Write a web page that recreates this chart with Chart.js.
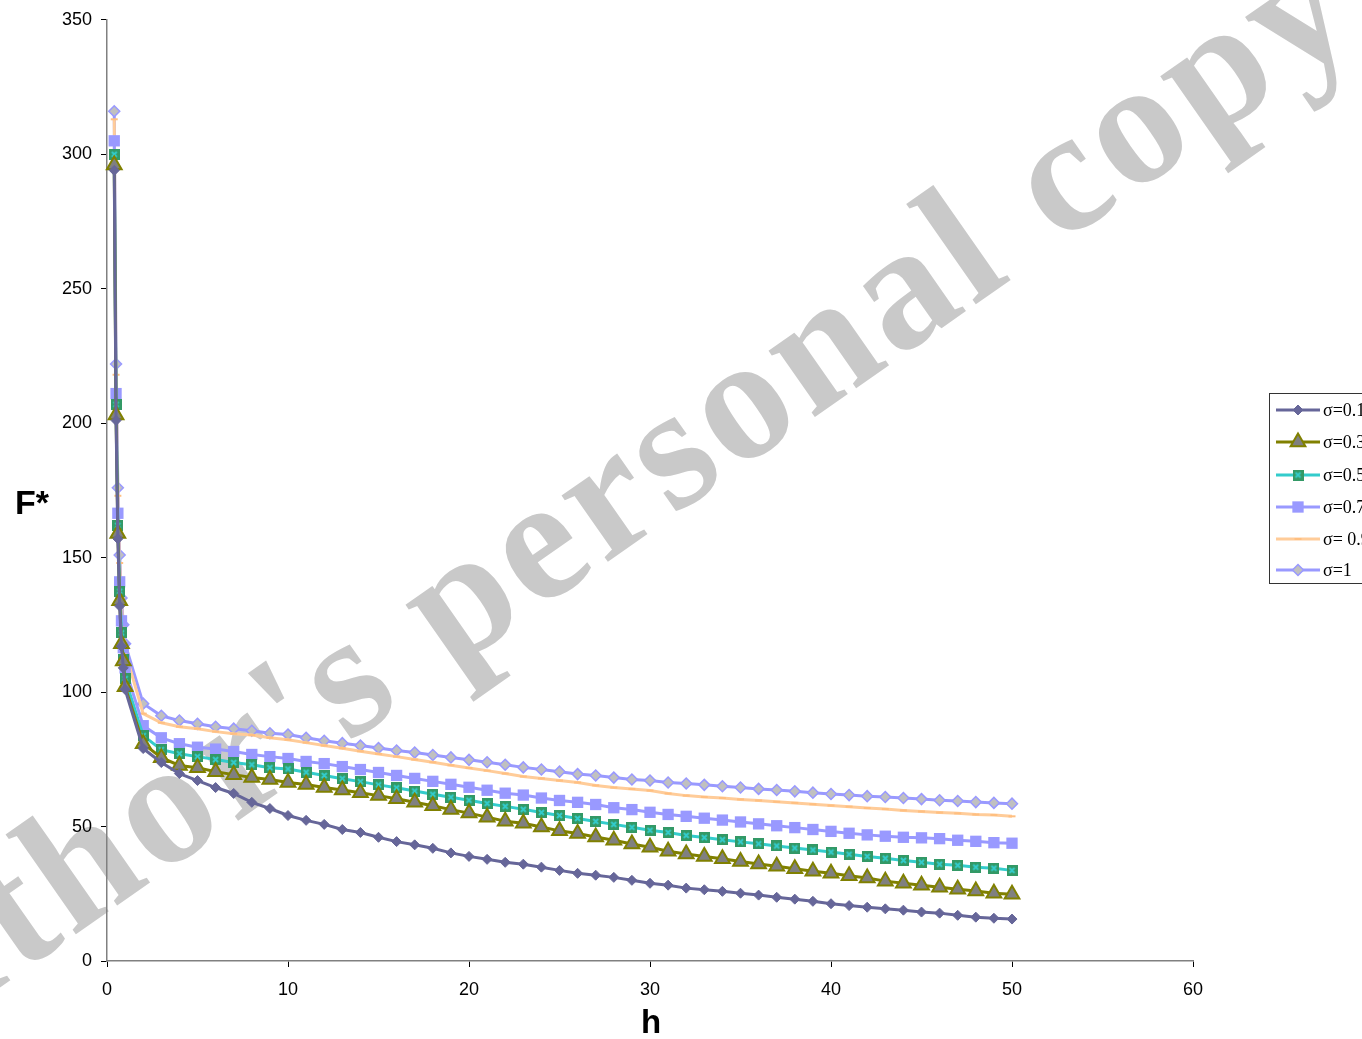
<!DOCTYPE html>
<html><head><meta charset="utf-8">
<script src="https://cdn.jsdelivr.net/npm/chart.js@4"></script>
<style>html,body{margin:0;padding:0;background:#fff;overflow:hidden}#wrap{width:1362px;height:1039px;position:relative}</style>
</head><body><div id="wrap"><canvas id="c" width="1362" height="1039"></canvas></div>
<script>
const hValues = [0.4,0.5,0.6,0.7,0.8,0.9,1,2,3,4,5,6,7,8,9,10,11,12,13,14,15,16,17,18,19,20,21,22,23,24,25,26,27,28,29,30,31,32,33,34,35,36,37,38,39,40,41,42,43,44,45,46,47,48,49,50];
const sigma01 = [294,201,157,132,117,109,101, 79,73.8,69.7,67.1,64.5,62.3,59,56.7,54.1,52.3,50.8, 48.9,47.8,46,44.4,43.2,41.9,40.2,38.9,37.8, 36.7,36,34.9,33.7,32.6,31.9,31.1,30,28.9,28.2,27.1, 26.5,25.9,25.2,24.5,23.7,23,22.2,21.3,20.6,20,19.4, 18.9,18.2,17.8,17,16.3,15.9,15.6];
const sigma03 = [296,203,159,134,118,111.6,102, 80.8,75.6,72.7,71.9,70.4,69.3,68.2,67.5,66.4,65.6,64.5, 63.6,62.6,61.5,60.3,59,57.7,56.3,55,53.5, 52,51.2,49.8,48.4,47.4,46.1,44.9,43.5,42.3,40.8,39.8, 38.9,38,37,36.1,35.2,34.3,33.4,32.6,31.7,30.9,29.7, 28.9,28.2,27.4,26.7,26,25.2,24.8];
const sigma05 = [300,207,162,137.5,122,112,105, 83.8,78.6,77.1,76,74.9,73.8,73,71.9,71.4,70.2,69, 67.8,66.7,65.5,64.4,63.2,62,60.9,59.8,58.6, 57.5,56.4,55.2,54.1,53,51.9,50.8,49.7,48.6,47.8,46.7, 45.9,45.1,44.3,43.6,42.8,42,41.3,40.5,39.7,38.9,38.2, 37.4,36.7,36,35.6,34.9,34.5,33.7];
const sigma07 = [305,211,166.5,141,126.5,116.5,109, 87.5,83,80.8,79.5,78.8,77.9,76.8,76,75.3,74.2,73.4, 72.3,71.2,70.1,69,67.9,66.8,65.7,64.6,63.5, 62.4,61.7,60.6,59.7,59,58.2,57,56.3,55.3,54.5,53.8, 53.1,52.4,51.7,51,50.3,49.6,48.9,48.2,47.5,46.9,46.4, 46,45.8,45.5,44.9,44.5,44,43.8];
const sigma09 = [313,218,173,148,133,122,115, 92,88.6,87.1,86.4,85.3,84.5,84,83,82.3,81.2,80.1, 79.1,78,77,76,74.9,73.9,72.8,71.8,70.8, 69.7,68.6,67.9,67.1,66.4,65.3,64.5,64,63.4,62.3,61.5, 61,60.6,60.1,59.7,59.2,58.8,58.3,57.8,57.4,56.9,56.5, 56,55.6,55.2,54.9,54.5,54.3,53.8];
const sigma10 = [316,222,176,151,135,125,118, 95.7,91.2,89.4,88.2,87.1,86.4,85.6,84.7,84.2,83,81.9, 81,80.1,79.2,78.3,77.5,76.6,75.7,74.8,73.9, 73,72,71.2,70.4,69.5,69,68.2,67.5,67.1,66.4,66, 65.5,65,64.5,64,63.6,63.1,62.6,62.1,61.7,61.3,61, 60.6,60.2,59.8,59.5,59.1,58.8,58.5];
const seriesLabels = ['σ=0.1','σ=0.3','σ=0.5','σ=0.7','σ= 0.9','σ=1'];
const xTickValues = [0,10,20,30,40,50,60];
const yTickValues = [0,50,100,150,200,250,300,350];
const xTitle = 'h';
const yTitle = 'F*';
const watermark = "Author's personal copy";

function tealMarker(){
  const s = 11, c = document.createElement('canvas');
  c.width = s; c.height = s;
  const g = c.getContext('2d');
  g.fillStyle = '#339966'; g.fillRect(0,0,s,s);
  g.strokeStyle = '#33CCCC'; g.lineWidth = 2;
  g.beginPath(); g.moveTo(3,3); g.lineTo(8,8); g.moveTo(8,3); g.lineTo(3,8); g.stroke();
  return c;
}
const tm = tealMarker();
const toXY = arr => arr.map((v,i) => ({x: hValues[i], y: v}));

const styles = [
  {borderColor:'#666699', pointStyle:'rectRot', pointRadius:5, pointBackgroundColor:'#666699', pointBorderColor:'#666699', pointBorderWidth:1},
  {borderColor:'#808000', pointStyle:'triangle', pointRadius:8.5, pointBackgroundColor:'#808080', pointBorderColor:'#808000', pointBorderWidth:2},
  {borderColor:'#33CCCC', pointStyle:tm, pointRadius:6, pointBackgroundColor:'#339966', pointBorderColor:'#339966', pointBorderWidth:0},
  {borderColor:'#9999FF', pointStyle:'rect', pointRadius:8, pointBackgroundColor:'#9999FF', pointBorderColor:'#9999FF', pointBorderWidth:0},
  {borderColor:'#FFCC99', pointStyle:'line', pointRadius:3.5, pointBackgroundColor:'#FFC080', pointBorderColor:'#FFBF80', pointBorderWidth:2},
  {borderColor:'#9999FF', pointStyle:'rectRot', pointRadius:5.5, pointBackgroundColor:'#C0C0C0', pointBorderColor:'#9999FF', pointBorderWidth:1.5}
];
const allSeries = [sigma01, sigma03, sigma05, sigma07, sigma09, sigma10];
const datasets = allSeries.map((s,i) => Object.assign({
  label: seriesLabels[i], data: toXY(s), borderWidth: 3, tension: 0, fill: false, clip: false
}, styles[i]));

const decor = {
  id: 'decor',
  beforeDraw(chart){
    const ctx = chart.ctx;
    ctx.save();
    ctx.fillStyle = '#fff'; ctx.fillRect(0,0,chart.width,chart.height);
    const ang = -35 * Math.PI/180;
    ctx.translate(-175, 1110);
    ctx.rotate(ang);
    ctx.font = 'bold 176px "Liberation Serif"';
    if ('letterSpacing' in ctx) ctx.letterSpacing = '6px';
    ctx.textAlign = 'left'; ctx.textBaseline = 'alphabetic';
    ctx.fillStyle = '#C9C9C9';
    ctx.fillText(watermark, 0, 0);
    ctx.restore();
  },
  afterDraw(chart){
    const ctx = chart.ctx;
    ctx.save();
    ctx.fillStyle = '#000';
    ctx.font = 'bold 34px "Liberation Sans", Arial';
    ctx.textAlign = 'center'; ctx.textBaseline = 'middle';
    ctx.fillText(yTitle, 32, 505);
    ctx.font = 'bold 33px "Liberation Sans", Arial';
    ctx.fillText(xTitle, 651, 1024);
    // legend
    const lx = 1269, ly = 393, lw = 110, lh = 190;
    ctx.fillStyle = '#fff'; ctx.fillRect(lx, ly, lw, lh);
    ctx.strokeStyle = '#333'; ctx.lineWidth = 1;
    ctx.strokeRect(lx + 0.5, ly + 0.5, lw, lh);
    const rows = [410, 442, 475, 507, 539, 570];
    chart.data.datasets.forEach((ds, i) => {
      const y = rows[i];
      ctx.strokeStyle = ds.borderColor; ctx.lineWidth = 3;
      ctx.beginPath(); ctx.moveTo(1276, y); ctx.lineTo(1320, y); ctx.stroke();
      ctx.fillStyle = ds.pointBackgroundColor; ctx.strokeStyle = ds.pointBorderColor;
      ctx.lineWidth = ds.pointBorderWidth;
      Chart.helpers.drawPoint(ctx, {pointStyle: ds.pointStyle, radius: ds.pointRadius, rotation: 0, borderWidth: ds.pointBorderWidth}, 1298, y);
      ctx.fillStyle = '#000';
      ctx.font = '18px "Liberation Serif"';
      ctx.textAlign = 'left'; ctx.textBaseline = 'middle';
      ctx.fillText(ds.label, 1323, y + 1);
    });
    ctx.restore();
  }
};

new Chart(document.getElementById('c'), {
  type: 'line',
  data: { datasets },
  plugins: [decor],
  options: {
    responsive: false, animation: false, devicePixelRatio: 1,
    layout: { padding: { top: 17, right: 169, left: 0, bottom: 0 } },
    plugins: { legend: { display: false }, tooltip: { enabled: false } },
    scales: {
      x: {
        type: 'linear', min: 0, max: 60,
        afterBuildTicks: s => { s.ticks = xTickValues.map(v => ({value: v})); },
        afterFit: s => { s.height = 78; },
        grid: { drawOnChartArea: false, drawTicks: true, tickLength: 6, color: '#000' },
        border: { color: '#808080', width: 1.5 },
        ticks: { color: '#000', font: { family: '"Liberation Sans", Arial', size: 18 }, padding: 12, maxRotation: 0 }
      },
      y: {
        type: 'linear', min: 0, max: 350,
        afterBuildTicks: s => { s.ticks = yTickValues.map(v => ({value: v})); },
        afterFit: s => { s.width = 107; },
        grid: { drawOnChartArea: false, drawTicks: true, tickLength: 6, color: '#000' },
        border: { color: '#808080', width: 1.5 },
        ticks: { color: '#000', font: { family: '"Liberation Sans", Arial', size: 18 }, padding: 9 }
      }
    }
  }
});
</script></body></html>
